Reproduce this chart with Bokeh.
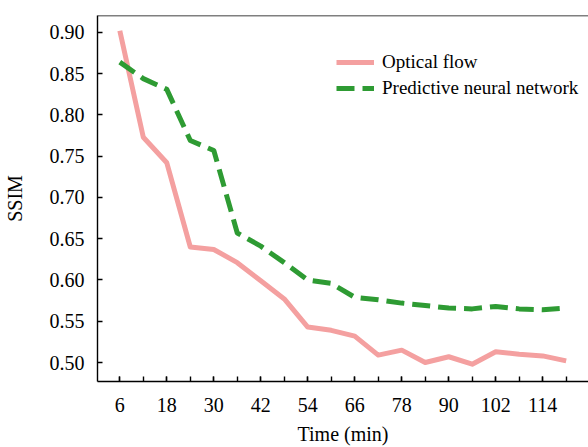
from bokeh.plotting import figure
from bokeh.models import FixedTicker, Range1d, Legend, LegendItem, Span, PrintfTickFormatter
from bokeh.embed import file_html
from bokeh.resources import INLINE

time_min = [6, 12, 18, 24, 30, 36, 42, 48, 54, 60, 66, 72, 78, 84, 90, 96, 102, 108, 114, 120]
optical_flow = [0.902, 0.773, 0.742, 0.640, 0.637, 0.621, 0.599, 0.577, 0.543, 0.539,
                0.532, 0.509, 0.515, 0.500, 0.507, 0.498, 0.513, 0.510, 0.508, 0.502]
predictive_nn = [0.864, 0.844, 0.831, 0.769, 0.757, 0.657, 0.641, 0.621, 0.600, 0.596,
                 0.579, 0.576, 0.572, 0.569, 0.566, 0.565, 0.568, 0.565, 0.564, 0.566]
x_ticks = list(range(6, 121, 6))
x_labeled = list(range(6, 115, 12))
y_ticks = [0.50, 0.55, 0.60, 0.65, 0.70, 0.75, 0.80, 0.85, 0.90]

FONT = "Liberation Serif"
TICK_FONT = "serif"
PINK = "#F4A0A0"
GREEN = "#2E9B33"

y_lo, y_hi = 0.477, 0.9205
p = figure(width=588, height=447, output_backend="svg", toolbar_location=None,
           x_range=Range1d(0.3, 125.7), y_range=Range1d(y_lo, y_hi),
           min_border_left=97, min_border_right=0, min_border_top=15, min_border_bottom=65)
p.outline_line_color = None
p.xgrid.visible = False
p.ygrid.visible = False
p.background_fill_color = "white"
p.border_fill_color = "white"

r1 = p.line(time_min, optical_flow, line_color=PINK, line_width=5, line_join="round")
r2 = p.line(time_min, predictive_nn, line_color=GREEN, line_width=5, line_dash="18 8",
            line_join="round")

p.xaxis.ticker = FixedTicker(ticks=x_labeled, minor_ticks=x_ticks)
p.yaxis.ticker = FixedTicker(ticks=y_ticks, minor_ticks=[])
p.yaxis.formatter = PrintfTickFormatter(format="%.2f")

for axes in (p.xaxis, p.yaxis):
    axes.axis_line_color = "black"
    axes.axis_line_width = 1.4
    axes.major_tick_in = 5
    axes.major_tick_out = 0
    axes.minor_tick_in = 5
    axes.minor_tick_out = 0
    axes.major_tick_line_color = "black"
    axes.major_tick_line_width = 1.4
    axes.minor_tick_line_color = "black"
    axes.minor_tick_line_width = 1.4
    axes.major_label_text_font = TICK_FONT
    axes.major_label_text_font_size = "20px"
    axes.major_label_text_font_style = "normal"
    axes.major_label_text_color = "black"
    axes.axis_label_text_font = FONT
    axes.axis_label_text_font_size = "20px"
    axes.axis_label_text_font_style = "normal"
    axes.axis_label_text_color = "black"

p.xaxis.axis_label = "Time (min)"
p.xaxis.major_label_standoff = 16
p.xaxis.axis_label_standoff = 8
p.yaxis.axis_label = "SSIM"
p.yaxis.major_label_standoff = 13
p.yaxis.axis_label_standoff = 21

p.add_layout(Span(location=y_hi, dimension="width", line_color="black", line_width=1.4))

legend = Legend(items=[LegendItem(label="Optical flow", renderers=[r1]),
                       LegendItem(label="Predictive neural network", renderers=[r2])],
                location=(239, 282), padding=0, margin=0, spacing=4,
                glyph_width=38, glyph_height=20, label_height=20, label_standoff=8,
                label_text_font=FONT, label_text_font_size="19px", label_text_color="black",
                border_line_color=None, background_fill_alpha=0)
p.add_layout(legend, "center")

open("out.html", "w").write(file_html(p, INLINE))
